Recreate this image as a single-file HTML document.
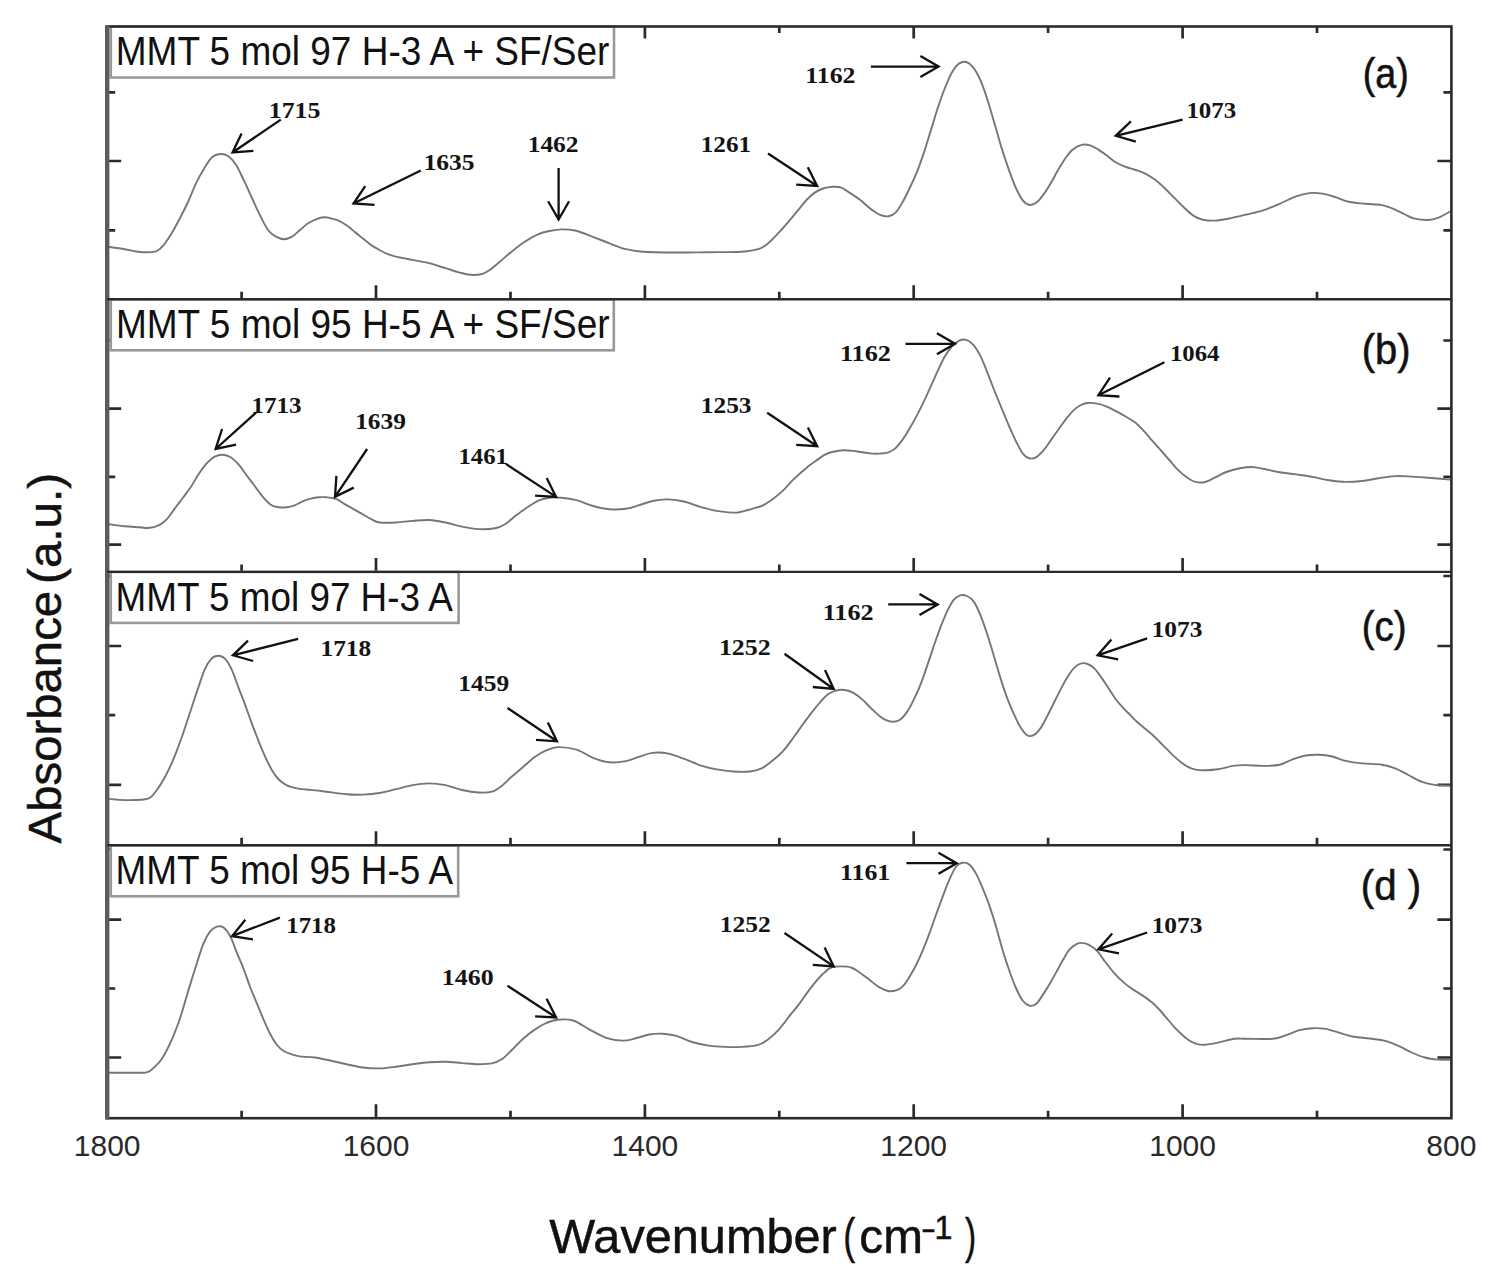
<!DOCTYPE html><html><head><meta charset="utf-8"><style>html,body{margin:0;padding:0;background:#fff;}svg{display:block;}</style></head><body>
<svg width="1500" height="1272" viewBox="0 0 1500 1272">
<rect x="0" y="0" width="1500" height="1272" fill="#fff"/>
<path d="M241.6,299.3 V291.8 M241.6,26.5 V33.0 M376.0,299.3 V285.3 M376.0,26.5 V38.5 M510.5,299.3 V291.8 M510.5,26.5 V33.0 M644.9,299.3 V285.3 M644.9,26.5 V38.5 M779.3,299.3 V291.8 M779.3,26.5 V33.0 M913.7,299.3 V285.3 M913.7,26.5 V38.5 M1048.1,299.3 V291.8 M1048.1,26.5 V33.0 M1182.6,299.3 V285.3 M1182.6,26.5 V38.5 M1317.0,299.3 V291.8 M1317.0,26.5 V33.0 M107.2,92.3 H115.2 M1451.4,92.3 H1443.4 M107.2,161.0 H121.2 M1451.4,161.0 H1437.4 M107.2,230.3 H115.2 M1451.4,230.3 H1443.4 M241.6,571.9 V564.4 M376.0,571.9 V557.9 M510.5,571.9 V564.4 M644.9,571.9 V557.9 M779.3,571.9 V564.4 M913.7,571.9 V557.9 M1048.1,571.9 V564.4 M1182.6,571.9 V557.9 M1317.0,571.9 V564.4 M107.2,340.5 H115.2 M1451.4,340.5 H1443.4 M107.2,408.7 H121.2 M1451.4,408.7 H1437.4 M107.2,476.8 H115.2 M1451.4,476.8 H1443.4 M107.2,544.6 H121.2 M1451.4,544.6 H1437.4 M241.6,845.3 V837.8 M376.0,845.3 V831.3 M510.5,845.3 V837.8 M644.9,845.3 V831.3 M779.3,845.3 V837.8 M913.7,845.3 V831.3 M1048.1,845.3 V837.8 M1182.6,845.3 V831.3 M1317.0,845.3 V837.8 M107.2,576.0 H115.2 M1451.4,576.0 H1443.4 M107.2,646.0 H121.2 M1451.4,646.0 H1437.4 M107.2,715.2 H115.2 M1451.4,715.2 H1443.4 M107.2,784.8 H121.2 M1451.4,784.8 H1437.4 M241.6,1118.2 V1110.7 M376.0,1118.2 V1104.2 M510.5,1118.2 V1110.7 M644.9,1118.2 V1104.2 M779.3,1118.2 V1110.7 M913.7,1118.2 V1104.2 M1048.1,1118.2 V1110.7 M1182.6,1118.2 V1104.2 M1317.0,1118.2 V1110.7 M107.2,849.5 H115.2 M1451.4,849.5 H1443.4 M107.2,919.6 H121.2 M1451.4,919.6 H1437.4 M107.2,988.5 H115.2 M1451.4,988.5 H1443.4 M107.2,1057.5 H121.2 M1451.4,1057.5 H1437.4" stroke="#2b2b2b" stroke-width="2.7" fill="none"/>
<path d="M108.0,246.7 C110.8,247.1 119.5,248.3 124.8,249.2 C130.1,250.1 134.8,251.7 140.0,252.0 C145.2,252.3 152.0,252.5 156.0,251.3 C160.0,250.1 161.3,247.8 164.0,244.7 C166.7,241.6 169.3,237.1 172.0,232.7 C174.7,228.2 177.3,223.1 180.0,218.0 C182.7,212.9 185.3,207.8 188.0,202.0 C190.7,196.2 193.3,188.9 196.0,183.3 C198.7,177.8 201.3,173.0 204.0,168.7 C206.7,164.4 209.3,159.8 212.0,157.3 C214.7,154.9 217.3,154.2 220.0,154.0 C222.7,153.8 225.3,154.2 228.0,156.0 C230.7,157.8 233.3,160.6 236.0,164.7 C238.7,168.8 241.3,175.1 244.0,180.7 C246.7,186.2 249.3,192.2 252.0,198.0 C254.7,203.8 257.3,210.0 260.0,215.3 C262.7,220.6 265.3,226.4 268.0,230.0 C270.7,233.6 273.3,235.1 276.0,236.7 C278.7,238.2 281.3,239.3 284.0,239.3 C286.7,239.3 289.3,238.2 292.0,236.7 C294.7,235.1 297.3,232.2 300.0,230.0 C302.7,227.8 305.3,225.1 308.0,223.3 C310.7,221.5 313.3,220.3 316.0,219.3 C318.7,218.3 321.3,217.4 324.0,217.3 C326.7,217.2 329.3,218.0 332.0,218.7 C334.7,219.4 337.6,220.2 340.0,221.3 C342.4,222.4 344.0,223.5 346.5,225.3 C349.0,227.1 352.1,229.7 354.8,231.9 C357.6,234.1 360.2,236.3 363.0,238.5 C365.8,240.7 368.6,243.2 371.3,245.1 C374.1,247.0 376.8,248.5 379.5,250.0 C382.2,251.5 385.1,253.1 387.8,254.2 C390.6,255.3 391.9,255.7 396.0,256.6 C400.1,257.6 407.0,258.8 412.5,259.9 C418.0,261.0 423.5,261.8 429.0,263.2 C434.5,264.6 440.5,266.7 445.5,268.2 C450.5,269.7 454.7,271.2 458.8,272.3 C462.9,273.4 466.5,274.5 470.3,274.8 C474.1,275.1 478.6,274.8 481.9,274.0 C485.2,273.2 487.1,271.9 490.1,269.8 C493.1,267.7 496.4,264.6 500.0,261.6 C503.6,258.6 507.5,255.0 511.6,251.7 C515.7,248.4 520.4,244.7 524.8,241.8 C529.2,238.9 533.9,236.1 538.0,234.3 C542.1,232.5 545.6,231.8 549.5,231.0 C553.4,230.2 556.9,229.5 561.1,229.4 C565.3,229.3 569.6,229.3 574.9,230.5 C580.2,231.7 587.2,234.7 593.0,236.8 C598.8,239.0 604.0,241.3 609.5,243.4 C615.0,245.5 620.5,247.8 626.0,249.2 C631.5,250.6 634.2,251.1 642.5,251.7 C650.8,252.2 664.6,252.4 675.6,252.5 C686.6,252.6 697.6,252.3 708.6,252.2 C719.6,252.1 733.4,252.2 741.6,251.7 C749.9,251.2 753.7,250.6 758.1,249.2 C762.5,247.8 764.4,246.3 768.0,243.4 C771.6,240.5 775.6,236.0 779.5,231.9 C783.4,227.8 788.0,222.4 791.1,218.7 C794.2,215.0 795.7,213.0 798.3,209.9 C800.9,206.8 803.8,202.9 806.5,200.0 C809.2,197.1 812.0,194.5 814.8,192.6 C817.5,190.7 820.0,189.5 823.0,188.5 C826.0,187.5 829.9,187.0 832.9,186.8 C835.9,186.7 838.5,186.6 841.2,187.6 C844.0,188.6 846.3,190.6 849.4,192.6 C852.5,194.6 857.2,197.6 860.0,199.7 C862.8,201.8 864.2,203.5 866.3,205.3 C868.4,207.1 870.3,208.8 872.6,210.4 C874.9,212.0 877.4,213.9 880.0,214.9 C882.6,215.9 885.9,216.7 888.5,216.3 C891.1,215.9 893.2,215.1 895.6,212.7 C898.0,210.3 900.2,206.2 902.6,202.1 C905.0,198.0 907.3,192.9 909.7,188.0 C912.1,183.1 914.4,178.3 916.8,172.4 C919.2,166.5 921.5,159.7 923.9,152.6 C926.3,145.5 928.6,137.5 931.0,129.9 C933.4,122.4 935.6,114.4 938.0,107.3 C940.4,100.2 942.7,93.4 945.1,87.5 C947.5,81.6 949.8,75.9 952.2,71.9 C954.6,67.9 956.9,65.0 959.3,63.4 C961.6,61.8 963.9,61.3 966.3,62.0 C968.6,62.7 971.0,64.5 973.4,67.6 C975.8,70.7 978.1,75.0 980.5,80.4 C982.9,85.8 985.2,92.9 987.6,100.2 C990.0,107.5 992.4,116.3 994.7,124.3 C997.1,132.3 999.4,140.8 1001.7,148.3 C1004.1,155.9 1006.4,163.0 1008.8,169.6 C1011.2,176.2 1013.5,182.8 1015.9,188.0 C1018.3,193.2 1020.6,197.9 1023.0,200.7 C1025.3,203.5 1027.7,204.8 1030.0,205.0 C1032.3,205.2 1034.7,204.0 1037.1,202.1 C1039.5,200.2 1041.8,196.9 1044.2,193.6 C1046.6,190.3 1049.0,186.3 1051.3,182.3 C1053.6,178.3 1055.9,173.6 1058.3,169.6 C1060.7,165.6 1063.0,161.5 1065.4,158.2 C1067.8,154.9 1069.8,151.9 1072.5,149.7 C1075.2,147.5 1078.7,145.5 1081.6,144.8 C1084.5,144.1 1087.2,144.6 1090.0,145.4 C1092.8,146.2 1095.6,147.9 1098.4,149.6 C1101.2,151.3 1103.8,153.4 1106.8,155.6 C1109.8,157.8 1113.2,160.9 1116.4,162.8 C1119.6,164.7 1122.8,165.8 1126.0,167.0 C1129.2,168.2 1132.4,168.9 1135.6,170.0 C1138.8,171.1 1142.0,172.0 1145.2,173.6 C1148.4,175.2 1151.6,177.2 1154.8,179.6 C1158.0,182.0 1161.3,185.0 1164.5,188.0 C1167.7,191.0 1170.9,194.4 1174.1,197.6 C1177.3,200.8 1180.5,204.2 1183.7,207.2 C1186.9,210.2 1190.1,213.5 1193.3,215.6 C1196.5,217.7 1199.3,219.0 1202.9,219.8 C1206.5,220.6 1210.6,220.8 1214.8,220.6 C1219.0,220.4 1222.7,219.7 1228.0,218.7 C1233.3,217.7 1240.7,215.9 1246.5,214.5 C1252.3,213.1 1257.5,212.2 1263.0,210.4 C1268.5,208.6 1274.0,206.1 1279.5,203.8 C1285.0,201.5 1291.0,198.2 1296.0,196.4 C1301.0,194.6 1304.8,193.6 1309.2,193.1 C1313.6,192.6 1318.0,192.9 1322.4,193.6 C1326.8,194.3 1331.2,195.8 1335.6,197.2 C1340.0,198.6 1343.9,200.7 1348.9,201.8 C1353.9,202.9 1359.9,203.2 1365.4,203.8 C1370.9,204.4 1377.0,204.1 1381.9,205.1 C1386.9,206.1 1391.2,208.0 1395.1,209.6 C1398.9,211.2 1401.7,213.0 1405.0,214.5 C1408.3,216.0 1411.1,217.8 1414.9,218.7 C1418.8,219.6 1424.2,220.2 1428.1,220.0 C1431.9,219.8 1434.3,219.2 1438.0,217.8 C1441.7,216.4 1448.0,212.6 1450.0,211.5" stroke="#767676" stroke-width="1.9" fill="none" stroke-linejoin="round"/>
<path d="M108.0,524.0 C110.8,524.4 119.5,525.8 124.8,526.3 C130.1,526.8 136.1,527.0 140.0,527.3 C143.9,527.6 144.9,528.3 148.0,528.0 C151.1,527.7 155.6,526.8 158.7,525.3 C161.8,523.8 164.0,522.1 166.7,519.3 C169.4,516.5 172.0,512.2 174.7,508.7 C177.4,505.1 180.0,501.6 182.7,498.0 C185.4,494.4 188.0,491.3 190.7,487.3 C193.4,483.3 196.0,478.0 198.7,474.0 C201.4,470.0 204.0,466.2 206.7,463.3 C209.4,460.4 212.0,458.1 214.7,456.7 C217.4,455.3 220.0,454.6 222.7,454.7 C225.4,454.8 228.0,455.6 230.7,457.3 C233.4,459.0 236.0,461.7 238.7,464.7 C241.4,467.7 244.0,471.8 246.7,475.3 C249.4,478.9 252.0,482.4 254.7,486.0 C257.4,489.6 260.0,493.6 262.7,496.7 C265.4,499.8 268.0,502.9 270.7,504.7 C273.4,506.5 276.0,506.9 278.7,507.3 C281.4,507.7 284.0,507.6 286.7,507.3 C289.4,507.0 292.0,506.3 294.7,505.3 C297.4,504.3 300.0,502.4 302.7,501.3 C305.4,500.2 308.0,499.4 310.7,498.7 C313.4,498.0 316.0,497.5 318.7,497.3 C321.4,497.1 323.7,497.0 326.7,497.3 C329.7,497.6 333.3,497.9 336.6,499.2 C339.9,500.5 342.6,503.0 346.5,505.2 C350.4,507.4 355.6,510.3 359.7,512.6 C363.8,514.9 368.0,517.6 371.3,519.2 C374.6,520.9 375.4,522.0 379.5,522.5 C383.6,523.0 390.5,522.8 396.0,522.5 C401.5,522.2 407.0,521.3 412.5,520.9 C418.0,520.5 423.5,519.7 429.0,520.0 C434.5,520.3 440.0,521.4 445.5,522.5 C451.0,523.6 456.6,525.5 462.1,526.6 C467.6,527.7 473.1,528.8 478.6,529.1 C484.1,529.4 490.7,529.1 495.1,528.3 C499.5,527.5 501.4,526.4 505.0,524.2 C508.6,522.0 512.6,518.0 516.5,515.1 C520.4,512.2 524.2,509.3 528.1,506.8 C532.0,504.3 536.0,501.7 539.6,500.2 C543.2,498.7 545.9,498.1 549.5,497.7 C553.1,497.3 556.6,497.3 561.1,497.7 C565.6,498.1 571.2,498.8 576.5,500.2 C581.8,501.6 587.5,504.5 593.0,506.0 C598.5,507.5 604.0,508.8 609.5,509.3 C615.0,509.8 621.0,509.5 626.0,508.8 C631.0,508.1 634.8,506.5 639.2,505.2 C643.6,503.9 647.7,502.0 652.4,501.0 C657.1,500.0 662.1,499.3 667.3,499.4 C672.5,499.5 678.3,500.3 683.8,501.5 C689.3,502.7 694.8,505.2 700.3,506.8 C705.8,508.4 711.3,509.9 716.8,510.9 C722.3,511.9 729.4,512.4 733.3,512.6 C737.2,512.8 736.9,512.6 740.0,512.0 C743.1,511.4 748.3,509.9 752.0,508.8 C755.7,507.7 758.8,507.3 762.4,505.6 C766.0,503.9 770.1,500.9 773.6,498.4 C777.1,495.9 780.1,493.3 783.2,490.4 C786.3,487.5 789.1,483.7 792.0,480.8 C794.9,477.9 798.1,475.2 800.8,472.8 C803.5,470.4 805.5,468.4 808.0,466.4 C810.5,464.4 813.3,462.7 816.0,460.8 C818.7,458.9 821.3,456.7 824.0,455.2 C826.7,453.7 828.7,452.8 832.0,452.0 C835.3,451.2 840.0,450.3 844.0,450.2 C848.0,450.1 851.7,450.7 856.0,451.2 C860.3,451.7 866.0,453.0 870.0,453.4 C874.0,453.8 876.9,453.8 880.0,453.6 C883.1,453.4 885.9,453.3 888.5,452.4 C891.1,451.5 893.2,450.2 895.6,448.1 C898.0,446.0 900.2,442.9 902.6,439.6 C905.0,436.3 907.3,432.3 909.7,428.3 C912.1,424.3 914.4,420.1 916.8,415.6 C919.2,411.1 921.5,406.3 923.9,401.4 C926.3,396.4 928.6,391.1 931.0,385.9 C933.4,380.7 935.6,375.3 938.0,370.3 C940.4,365.3 942.7,360.1 945.1,356.1 C947.5,352.1 949.8,348.8 952.2,346.2 C954.6,343.6 956.9,341.7 959.3,340.6 C961.6,339.6 963.9,339.2 966.3,339.9 C968.6,340.6 971.0,342.1 973.4,344.8 C975.8,347.5 978.1,351.4 980.5,356.1 C982.9,360.8 985.2,367.2 987.6,373.1 C990.0,379.0 992.4,385.6 994.7,391.5 C997.1,397.4 999.4,402.8 1001.7,408.5 C1004.1,414.2 1006.4,420.1 1008.8,425.5 C1011.2,430.9 1013.5,436.4 1015.9,441.1 C1018.3,445.8 1020.6,450.9 1023.0,453.8 C1025.3,456.7 1027.7,458.0 1030.0,458.5 C1032.3,459.0 1034.7,458.1 1037.1,456.6 C1039.5,455.1 1041.8,452.4 1044.2,449.6 C1046.6,446.8 1049.0,442.9 1051.3,439.6 C1053.6,436.3 1055.9,433.0 1058.3,429.7 C1060.7,426.4 1063.0,422.9 1065.4,419.8 C1067.8,416.7 1070.1,413.7 1072.5,411.3 C1074.9,408.9 1077.5,406.9 1080.0,405.5 C1082.5,404.1 1084.7,403.3 1087.6,403.0 C1090.5,402.7 1094.0,403.0 1097.2,403.6 C1100.4,404.2 1103.6,405.3 1106.8,406.6 C1110.0,407.9 1113.2,409.7 1116.4,411.4 C1119.6,413.1 1122.8,414.9 1126.0,416.8 C1129.2,418.7 1132.6,420.4 1135.6,422.8 C1138.6,425.2 1141.2,428.2 1144.0,431.2 C1146.8,434.2 1149.6,437.6 1152.4,440.8 C1155.2,444.0 1158.1,447.2 1160.9,450.4 C1163.7,453.6 1166.5,456.8 1169.3,460.0 C1172.1,463.2 1174.9,466.8 1177.7,469.6 C1180.5,472.4 1183.3,474.8 1186.1,476.8 C1188.9,478.8 1191.5,480.7 1194.5,481.6 C1197.5,482.5 1200.7,482.9 1204.1,482.2 C1207.5,481.5 1211.1,479.4 1214.8,477.7 C1218.5,476.0 1222.1,473.6 1226.3,472.0 C1230.5,470.4 1235.7,469.1 1239.9,468.3 C1244.1,467.5 1247.7,466.9 1251.5,467.0 C1255.3,467.1 1258.3,467.8 1263.0,468.7 C1267.7,469.6 1274.0,471.4 1279.5,472.3 C1285.0,473.2 1290.5,473.6 1296.0,474.4 C1301.5,475.2 1307.0,475.9 1312.5,476.9 C1318.0,477.9 1323.5,479.4 1329.0,480.2 C1334.5,481.0 1340.1,481.8 1345.6,481.9 C1351.1,482.0 1356.6,481.6 1362.1,481.0 C1367.6,480.4 1373.1,479.0 1378.6,478.2 C1384.1,477.4 1389.6,476.4 1395.1,476.1 C1400.6,475.8 1406.1,476.3 1411.6,476.6 C1417.1,476.9 1421.7,477.2 1428.1,477.7 C1434.5,478.2 1446.3,479.3 1450.0,479.6" stroke="#767676" stroke-width="1.9" fill="none" stroke-linejoin="round"/>
<path d="M108.0,798.9 C110.8,799.1 119.2,800.0 124.8,800.1 C130.3,800.2 137.1,800.1 141.3,799.7 C145.5,799.3 147.2,799.7 150.0,797.8 C152.8,795.9 155.3,792.2 158.0,788.4 C160.7,784.6 163.3,780.1 166.0,775.0 C168.7,769.9 171.4,764.1 174.1,757.6 C176.8,751.1 179.4,743.9 182.1,736.3 C184.8,728.7 187.4,720.2 190.1,712.2 C192.8,704.2 195.6,695.2 198.1,688.1 C200.6,681.0 202.6,674.3 204.8,669.4 C207.0,664.5 209.3,661.0 211.5,658.7 C213.7,656.4 216.0,655.8 218.2,655.8 C220.4,655.8 222.7,656.4 224.9,658.7 C227.1,661.0 229.4,664.7 231.6,669.4 C233.8,674.1 236.0,681.0 238.2,686.8 C240.4,692.6 242.7,698.2 244.9,704.2 C247.1,710.2 249.4,716.9 251.6,722.9 C253.8,728.9 256.1,734.7 258.3,740.3 C260.5,745.9 262.8,751.4 265.0,756.3 C267.2,761.2 269.5,765.9 271.7,769.7 C273.9,773.5 275.9,776.4 278.3,779.0 C280.8,781.6 283.3,783.5 286.4,785.1 C289.5,786.7 293.7,787.7 297.0,788.4 C300.3,789.1 302.0,789.0 306.3,789.5 C310.6,790.0 316.1,790.4 322.8,791.2 C329.5,792.0 339.8,793.6 346.5,794.2 C353.2,794.8 357.5,794.8 363.0,794.6 C368.5,794.4 374.0,793.9 379.5,793.0 C385.0,792.1 390.5,790.5 396.0,789.2 C401.5,787.9 407.0,786.1 412.5,785.1 C418.0,784.1 423.5,783.4 429.0,783.4 C434.5,783.4 440.0,784.0 445.5,785.1 C451.0,786.2 456.6,788.8 462.1,790.0 C467.6,791.2 473.7,792.2 478.6,792.5 C483.6,792.8 488.0,792.8 491.8,791.7 C495.6,790.6 498.4,788.4 501.7,785.9 C505.0,783.4 508.0,780.0 511.6,776.8 C515.2,773.6 519.2,770.2 523.1,766.9 C527.0,763.6 530.9,759.8 534.7,757.0 C538.6,754.2 542.4,752.0 546.2,750.4 C550.1,748.8 552.8,747.2 557.8,747.1 C562.8,747.0 570.6,747.8 576.5,749.6 C582.4,751.4 587.5,755.7 593.0,757.8 C598.5,759.9 604.0,761.8 609.5,762.3 C615.0,762.8 621.0,762.0 626.0,761.1 C631.0,760.2 634.8,758.1 639.2,756.7 C643.6,755.3 647.7,753.5 652.4,752.9 C657.1,752.3 662.1,752.4 667.3,753.4 C672.5,754.4 678.3,756.7 683.8,758.7 C689.3,760.7 694.8,763.5 700.3,765.3 C705.8,767.1 711.3,768.4 716.8,769.4 C722.3,770.4 727.8,771.1 733.3,771.5 C738.8,771.9 745.4,772.0 750.0,771.5 C754.6,771.0 757.3,770.5 761.0,768.7 C764.7,767.0 768.3,763.9 772.0,761.0 C775.7,758.1 779.3,755.1 783.0,751.1 C786.7,747.1 790.3,741.8 794.0,736.8 C797.7,731.8 801.3,726.3 805.0,721.4 C808.7,716.5 812.3,711.5 816.0,707.1 C819.7,702.7 823.7,697.8 827.0,695.0 C830.3,692.2 832.9,691.4 835.8,690.6 C838.7,689.8 841.7,689.6 844.6,690.0 C847.5,690.4 850.5,691.2 853.4,692.8 C856.3,694.4 859.3,696.8 862.2,699.4 C865.1,702.0 868.0,705.4 871.0,708.2 C874.0,711.0 877.4,714.4 880.0,716.4 C882.6,718.4 884.5,719.5 886.7,720.4 C888.9,721.3 891.2,721.8 893.4,721.7 C895.6,721.6 897.9,721.2 900.1,719.7 C902.3,718.2 904.5,715.6 906.7,712.4 C908.9,709.2 911.2,704.8 913.4,700.3 C915.6,695.8 917.9,691.2 920.1,685.6 C922.3,680.0 924.6,673.4 926.8,666.9 C929.0,660.4 931.3,653.3 933.5,646.8 C935.7,640.3 938.0,633.9 940.2,628.1 C942.4,622.3 944.6,616.8 946.8,612.1 C949.0,607.4 951.3,602.9 953.5,600.1 C955.7,597.3 958.0,596.1 960.2,595.4 C962.4,594.7 964.7,595.0 966.9,596.0 C969.1,597.0 971.4,598.3 973.6,601.4 C975.8,604.5 978.1,609.4 980.3,614.8 C982.5,620.1 984.8,626.8 987.0,633.5 C989.2,640.2 991.4,647.5 993.6,654.9 C995.8,662.2 998.1,670.5 1000.3,677.6 C1002.5,684.7 1004.8,691.6 1007.0,697.6 C1009.2,703.6 1011.5,708.8 1013.7,713.7 C1015.9,718.6 1018.2,723.5 1020.4,727.1 C1022.6,730.7 1024.9,733.9 1027.1,735.2 C1029.3,736.6 1031.5,736.3 1033.7,735.2 C1035.9,734.1 1038.2,731.5 1040.4,728.4 C1042.6,725.3 1044.9,720.6 1047.1,716.4 C1049.3,712.2 1051.6,707.5 1053.8,703.0 C1056.0,698.5 1058.3,693.8 1060.5,689.6 C1062.7,685.4 1065.0,681.2 1067.2,677.6 C1069.4,674.0 1071.7,670.5 1073.9,668.2 C1076.1,665.9 1078.1,664.3 1080.4,663.6 C1082.7,662.9 1085.2,663.1 1087.6,664.0 C1090.0,664.9 1092.4,666.4 1094.8,668.8 C1097.2,671.2 1099.6,675.0 1102.0,678.4 C1104.4,681.8 1106.8,685.6 1109.2,689.2 C1111.6,692.8 1114.0,696.8 1116.4,700.0 C1118.8,703.2 1121.2,705.8 1123.6,708.4 C1126.0,711.0 1128.4,713.2 1130.8,715.6 C1133.2,718.0 1135.6,720.6 1138.0,722.8 C1140.4,725.0 1142.8,726.8 1145.2,728.8 C1147.6,730.8 1150.0,732.6 1152.4,734.8 C1154.8,737.0 1157.3,739.6 1159.7,742.0 C1162.1,744.4 1164.5,746.8 1166.9,749.2 C1169.3,751.6 1171.7,754.2 1174.1,756.4 C1176.5,758.6 1178.9,760.6 1181.3,762.4 C1183.7,764.2 1186.1,766.0 1188.5,767.2 C1190.9,768.4 1193.1,769.1 1195.7,769.6 C1198.3,770.1 1200.4,770.3 1204.1,770.2 C1207.8,770.1 1213.0,770.0 1218.1,769.2 C1223.2,768.4 1229.9,766.3 1234.6,765.6 C1239.3,764.9 1241.8,765.1 1246.5,765.1 C1251.2,765.1 1257.5,766.0 1263.0,765.9 C1268.5,765.8 1274.5,765.8 1279.5,764.7 C1284.5,763.6 1288.3,760.8 1292.7,759.3 C1297.1,757.8 1301.5,756.2 1305.9,755.5 C1310.3,754.8 1314.7,754.6 1319.1,754.8 C1323.5,755.0 1327.9,755.5 1332.3,756.5 C1336.7,757.5 1340.6,759.8 1345.6,760.9 C1350.6,762.0 1356.0,762.8 1362.1,763.4 C1368.1,764.0 1376.4,763.9 1381.9,764.7 C1387.4,765.5 1390.7,766.7 1395.1,768.4 C1399.5,770.1 1403.9,772.8 1408.3,775.0 C1412.7,777.2 1417.1,780.0 1421.5,781.6 C1425.9,783.2 1430.0,784.2 1434.7,784.9 C1439.5,785.6 1447.5,785.6 1450.0,785.7" stroke="#767676" stroke-width="1.9" fill="none" stroke-linejoin="round"/>
<path d="M108.0,1072.8 C110.8,1072.8 119.5,1072.8 124.8,1072.8 C130.1,1072.8 136.6,1072.8 140.0,1072.8 C143.4,1072.8 143.8,1072.9 145.5,1072.6 C147.2,1072.2 148.6,1071.8 150.3,1070.7 C152.0,1069.6 153.9,1067.7 155.7,1065.9 C157.5,1064.1 159.4,1062.2 161.0,1060.0 C162.6,1057.8 164.0,1055.4 165.3,1053.0 C166.6,1050.6 167.8,1048.2 169.0,1045.6 C170.2,1043.0 171.5,1040.3 172.7,1037.6 C173.8,1034.9 174.8,1032.4 175.9,1029.6 C177.0,1026.8 178.0,1024.2 179.1,1021.0 C180.2,1017.8 181.3,1014.4 182.5,1010.5 C183.7,1006.6 185.0,1001.8 186.3,997.5 C187.6,993.2 188.3,990.6 190.1,984.9 C191.8,979.2 194.6,970.4 196.8,963.5 C199.0,956.6 201.3,948.8 203.5,943.4 C205.7,938.0 208.0,934.2 210.2,931.4 C212.4,928.6 214.6,927.4 216.8,926.7 C219.0,926.0 221.3,925.8 223.5,927.4 C225.7,929.0 228.0,931.9 230.2,936.1 C232.4,940.3 234.7,947.3 236.9,952.8 C239.1,958.2 241.4,963.0 243.6,968.8 C245.8,974.6 248.1,981.7 250.3,987.5 C252.5,993.3 254.8,998.2 257.0,1003.6 C259.2,1009.0 261.4,1014.5 263.6,1019.6 C265.8,1024.7 268.1,1030.1 270.3,1034.3 C272.5,1038.5 274.8,1042.2 277.0,1045.0 C279.2,1047.8 281.2,1049.4 283.7,1051.0 C286.1,1052.6 289.0,1053.5 291.7,1054.4 C294.4,1055.3 295.9,1055.9 299.7,1056.4 C303.5,1056.9 309.4,1056.8 314.6,1057.5 C319.8,1058.2 325.8,1059.7 331.1,1060.8 C336.4,1061.9 341.2,1063.1 346.5,1064.2 C351.8,1065.3 357.5,1066.8 363.0,1067.5 C368.5,1068.2 374.0,1068.5 379.5,1068.4 C385.0,1068.3 390.5,1067.4 396.0,1066.7 C401.5,1066.0 407.0,1064.9 412.5,1064.2 C418.0,1063.5 423.5,1062.7 429.0,1062.3 C434.5,1061.9 440.0,1061.7 445.5,1061.8 C451.0,1061.9 456.6,1062.7 462.1,1063.1 C467.6,1063.5 473.7,1064.2 478.6,1064.2 C483.6,1064.2 488.0,1064.2 491.8,1063.4 C495.6,1062.6 498.4,1061.5 501.7,1059.3 C505.0,1057.1 508.0,1053.6 511.6,1050.2 C515.2,1046.8 519.2,1042.1 523.1,1038.7 C527.0,1035.3 530.9,1032.2 534.7,1029.6 C538.6,1027.0 542.4,1024.7 546.2,1023.0 C550.1,1021.4 553.3,1020.1 557.8,1019.7 C562.3,1019.3 567.9,1018.9 573.2,1020.5 C578.5,1022.1 584.2,1026.7 589.7,1029.6 C595.2,1032.5 600.7,1036.0 606.2,1037.8 C611.7,1039.6 617.8,1040.5 622.7,1040.6 C627.7,1040.7 631.5,1039.3 635.9,1038.3 C640.3,1037.3 644.7,1035.3 649.1,1034.5 C653.5,1033.7 657.9,1033.5 662.3,1033.7 C666.7,1033.9 670.6,1034.3 675.6,1035.7 C680.6,1037.1 686.6,1040.3 692.1,1042.0 C697.6,1043.7 703.1,1044.8 708.6,1045.6 C714.1,1046.4 719.6,1046.7 725.1,1046.9 C730.6,1047.1 736.1,1047.2 741.6,1046.9 C747.1,1046.6 753.7,1046.1 758.1,1044.9 C762.5,1043.7 764.4,1042.2 768.0,1039.5 C771.6,1036.8 775.6,1033.1 779.5,1028.8 C783.4,1024.5 788.0,1017.8 791.1,1013.9 C794.2,1010.0 795.7,1008.6 798.3,1005.2 C800.9,1001.8 803.8,997.3 806.5,993.6 C809.2,989.9 812.0,986.2 814.8,982.9 C817.5,979.6 820.2,976.4 823.0,973.8 C825.8,971.2 828.3,968.7 831.3,967.5 C834.3,966.3 837.9,966.4 841.2,966.4 C844.5,966.4 848.1,966.5 851.1,967.5 C854.1,968.5 856.1,970.1 859.3,972.2 C862.4,974.3 867.4,978.2 870.0,980.2 C872.6,982.2 873.0,982.8 874.7,984.0 C876.4,985.2 877.8,986.5 880.0,987.7 C882.2,988.9 885.3,990.5 888.0,991.0 C890.7,991.5 893.5,991.2 896.0,990.4 C898.5,989.6 900.5,988.6 902.7,986.4 C904.9,984.2 907.2,980.6 909.4,977.0 C911.6,973.4 913.9,969.5 916.1,965.0 C918.3,960.5 920.6,955.6 922.8,950.3 C925.0,945.0 927.3,939.2 929.5,933.2 C931.7,927.2 933.9,920.6 936.1,914.5 C938.3,908.4 940.6,902.1 942.8,896.3 C945.0,890.4 947.3,884.4 949.5,879.4 C951.7,874.4 954.0,869.3 956.2,866.5 C958.4,863.7 960.7,863.0 962.9,862.7 C965.1,862.4 967.4,862.8 969.6,864.7 C971.8,866.6 974.1,870.1 976.3,874.1 C978.5,878.1 980.7,883.5 982.9,888.8 C985.1,894.1 987.4,899.6 989.6,906.1 C991.8,912.6 994.1,919.9 996.3,927.5 C998.5,935.1 1000.8,944.2 1003.0,951.6 C1005.2,959.0 1007.5,965.5 1009.7,971.7 C1011.9,977.9 1014.2,984.1 1016.4,989.0 C1018.6,993.9 1020.8,998.2 1023.0,1001.0 C1025.2,1003.8 1027.5,1005.3 1029.7,1005.8 C1031.9,1006.2 1034.2,1005.6 1036.4,1003.7 C1038.6,1001.8 1040.9,997.7 1043.1,994.4 C1045.3,991.1 1047.6,987.5 1049.8,983.7 C1052.0,979.9 1054.3,975.7 1056.5,971.7 C1058.7,967.7 1061.0,963.4 1063.2,959.6 C1065.4,955.9 1067.3,951.9 1069.8,949.2 C1072.3,946.5 1075.4,944.4 1078.0,943.4 C1080.6,942.4 1082.8,942.8 1085.2,943.4 C1087.6,944.0 1090.2,945.5 1092.4,947.0 C1094.6,948.5 1096.4,950.1 1098.4,952.4 C1100.4,954.7 1101.8,957.4 1104.4,960.8 C1107.0,964.2 1110.8,969.2 1114.0,972.8 C1117.2,976.4 1120.4,979.6 1123.6,982.4 C1126.8,985.2 1130.0,987.4 1133.2,989.6 C1136.4,991.8 1139.6,993.4 1142.8,995.6 C1146.0,997.8 1149.6,1000.4 1152.4,1002.8 C1155.2,1005.2 1157.3,1007.4 1159.7,1010.0 C1162.1,1012.6 1164.5,1015.6 1166.9,1018.4 C1169.3,1021.2 1171.7,1024.2 1174.1,1026.8 C1176.5,1029.4 1178.9,1031.8 1181.3,1034.0 C1183.7,1036.2 1186.1,1038.4 1188.5,1040.0 C1190.9,1041.6 1193.1,1042.8 1195.7,1043.6 C1198.3,1044.4 1200.4,1045.0 1204.1,1044.8 C1207.8,1044.6 1213.0,1043.6 1218.1,1042.6 C1223.2,1041.6 1229.9,1039.4 1234.6,1038.8 C1239.3,1038.2 1240.1,1038.8 1246.5,1038.8 C1252.9,1038.8 1266.3,1039.4 1272.9,1038.8 C1279.5,1038.2 1281.7,1036.6 1286.1,1035.2 C1290.5,1033.8 1294.9,1031.4 1299.3,1030.2 C1303.7,1029.0 1308.1,1028.4 1312.5,1028.2 C1316.9,1028.0 1321.3,1028.2 1325.7,1028.9 C1330.1,1029.7 1334.6,1031.4 1339.0,1032.7 C1343.4,1034.0 1346.7,1035.5 1352.2,1036.5 C1357.7,1037.5 1366.5,1038.1 1372.0,1038.8 C1377.5,1039.5 1380.8,1039.7 1385.2,1040.9 C1389.6,1042.1 1394.0,1044.0 1398.4,1045.9 C1402.8,1047.8 1407.2,1050.6 1411.6,1052.5 C1416.0,1054.4 1420.4,1056.3 1424.8,1057.5 C1429.2,1058.7 1433.8,1059.2 1438.0,1059.6 C1442.2,1060.0 1448.0,1059.9 1450.0,1059.9" stroke="#767676" stroke-width="1.9" fill="none" stroke-linejoin="round"/>
<rect x="110.8" y="26.5" width="503.2" height="51.0" fill="#fff" stroke="#999" stroke-width="2.6"/>
<rect x="110.8" y="299.3" width="503.0" height="51.0" fill="#fff" stroke="#999" stroke-width="2.6"/>
<rect x="110.8" y="571.9" width="347.8" height="51.0" fill="#fff" stroke="#999" stroke-width="2.6"/>
<rect x="110.8" y="845.3" width="347.4" height="51.0" fill="#fff" stroke="#999" stroke-width="2.6"/>
<rect x="107.2" y="26.5" width="1344.2" height="1091.7" fill="none" stroke="#2b2b2b" stroke-width="2.6"/>
<path d="M107.2,25.2 V1119.5" stroke="#5c5c5c" stroke-width="4.4"/>
<path d="M107.2,299.3 H1451.4" stroke="#2b2b2b" stroke-width="2.4"/>
<path d="M107.2,571.9 H1451.4" stroke="#2b2b2b" stroke-width="2.4"/>
<path d="M107.2,845.3 H1451.4" stroke="#2b2b2b" stroke-width="2.4"/>
<text x="115.80" y="64.80" font-family="'Liberation Sans', sans-serif" font-size="40.00" fill="#111" textLength="493.51" lengthAdjust="spacingAndGlyphs">MMT 5 mol 97 H-3 A + SF/Ser</text>
<text x="116.00" y="337.60" font-family="'Liberation Sans', sans-serif" font-size="40.00" fill="#111" textLength="493.51" lengthAdjust="spacingAndGlyphs">MMT 5 mol 95 H-5 A + SF/Ser</text>
<text x="115.60" y="610.60" font-family="'Liberation Sans', sans-serif" font-size="40.00" fill="#111" textLength="337.17" lengthAdjust="spacingAndGlyphs">MMT 5 mol 97 H-3 A</text>
<text x="115.60" y="883.60" font-family="'Liberation Sans', sans-serif" font-size="40.00" fill="#111" textLength="337.47" lengthAdjust="spacingAndGlyphs">MMT 5 mol 95 H-5 A</text>
<path d="M280.8,119.6 L232.5,152.5 M253.4,150.9 L232.5,152.5 L241.6,133.6 M420.8,170.5 L353.5,203.5 M374.5,204.9 L353.5,203.5 L365.2,186.1 M558.6,168.0 L558.6,219.5 M569.1,201.3 L558.6,219.5 L548.1,201.3 M768.0,153.5 L817.2,186.0 M807.8,167.2 L817.2,186.0 L796.2,184.7 M870.9,66.6 L938.6,66.6 M920.4,56.1 L938.6,66.6 L920.4,77.1 M1182.6,119.6 L1115.7,135.8 M1135.8,141.7 L1115.7,135.8 L1130.9,121.3 M256.0,412.7 L215.6,449.0 M236.1,444.7 L215.6,449.0 L222.1,429.0 M367.1,449.0 L335.0,496.9 M353.8,487.6 L335.0,496.9 L336.4,475.9 M505.8,463.9 L556.1,496.9 M546.7,478.1 L556.1,496.9 L535.1,495.7 M767.2,412.7 L817.2,446.2 M807.9,427.4 L817.2,446.2 L796.2,444.8 M905.5,343.8 L955.1,343.8 M936.9,333.3 L955.1,343.8 L936.9,354.3 M1164.4,362.2 L1098.4,395.2 M1119.4,396.5 L1098.4,395.2 L1110.0,377.7 M298.1,638.8 L232.9,655.3 M253.1,661.0 L232.9,655.3 L248.0,640.7 M507.5,708.0 L557.0,741.3 M547.8,722.4 L557.0,741.3 L536.0,739.9 M784.5,653.8 L833.7,689.0 M825.0,669.9 L833.7,689.0 L812.8,687.0 M888.2,604.4 L937.7,604.4 M919.5,593.9 L937.7,604.4 L919.5,614.9 M1147.1,638.3 L1097.6,655.3 M1118.2,659.3 L1097.6,655.3 L1111.4,639.5 M279.9,917.6 L232.1,936.1 M252.9,939.3 L232.1,936.1 L245.3,919.7 M507.5,985.8 L556.1,1017.5 M546.6,998.8 L556.1,1017.5 L535.1,1016.4 M784.5,933.0 L833.7,966.4 M824.6,947.5 L833.7,966.4 L812.8,964.9 M906.4,863.2 L956.7,863.2 M938.5,852.7 L956.7,863.2 L938.5,873.7 M1147.1,932.5 L1098.4,949.3 M1119.0,953.3 L1098.4,949.3 L1112.2,933.4" stroke="#111" stroke-width="2.30" fill="none" stroke-linejoin="miter" stroke-linecap="butt"/>
<text x="268.73" y="118.00" font-family="'Liberation Serif', serif" font-weight="bold" font-size="24.00" fill="#141414" textLength="51.72" lengthAdjust="spacingAndGlyphs">1715</text>
<text x="423.66" y="170.00" font-family="'Liberation Serif', serif" font-weight="bold" font-size="24.00" fill="#141414" textLength="50.87" lengthAdjust="spacingAndGlyphs">1635</text>
<text x="527.66" y="151.80" font-family="'Liberation Serif', serif" font-weight="bold" font-size="24.00" fill="#141414" textLength="50.93" lengthAdjust="spacingAndGlyphs">1462</text>
<text x="700.79" y="151.80" font-family="'Liberation Serif', serif" font-weight="bold" font-size="24.00" fill="#141414" textLength="50.32" lengthAdjust="spacingAndGlyphs">1261</text>
<text x="805.29" y="83.20" font-family="'Liberation Serif', serif" font-weight="bold" font-size="24.00" fill="#141414" textLength="50.19" lengthAdjust="spacingAndGlyphs">1162</text>
<text x="1186.40" y="118.00" font-family="'Liberation Serif', serif" font-weight="bold" font-size="24.00" fill="#141414" textLength="49.85" lengthAdjust="spacingAndGlyphs">1073</text>
<text x="251.50" y="412.70" font-family="'Liberation Serif', serif" font-weight="bold" font-size="24.00" fill="#141414" textLength="49.95" lengthAdjust="spacingAndGlyphs">1713</text>
<text x="355.16" y="429.20" font-family="'Liberation Serif', serif" font-weight="bold" font-size="24.00" fill="#141414" textLength="50.85" lengthAdjust="spacingAndGlyphs">1639</text>
<text x="458.42" y="463.90" font-family="'Liberation Serif', serif" font-weight="bold" font-size="24.00" fill="#141414" textLength="49.46" lengthAdjust="spacingAndGlyphs">1461</text>
<text x="700.77" y="412.70" font-family="'Liberation Serif', serif" font-weight="bold" font-size="24.00" fill="#141414" textLength="50.80" lengthAdjust="spacingAndGlyphs">1253</text>
<text x="839.96" y="360.80" font-family="'Liberation Serif', serif" font-weight="bold" font-size="24.00" fill="#141414" textLength="51.04" lengthAdjust="spacingAndGlyphs">1162</text>
<text x="1169.92" y="360.50" font-family="'Liberation Serif', serif" font-weight="bold" font-size="24.00" fill="#141414" textLength="49.44" lengthAdjust="spacingAndGlyphs">1064</text>
<text x="320.47" y="655.50" font-family="'Liberation Serif', serif" font-weight="bold" font-size="24.00" fill="#141414" textLength="50.78" lengthAdjust="spacingAndGlyphs">1718</text>
<text x="458.36" y="690.70" font-family="'Liberation Serif', serif" font-weight="bold" font-size="24.00" fill="#141414" textLength="50.85" lengthAdjust="spacingAndGlyphs">1459</text>
<text x="718.93" y="654.70" font-family="'Liberation Serif', serif" font-weight="bold" font-size="24.00" fill="#141414" textLength="51.79" lengthAdjust="spacingAndGlyphs">1252</text>
<text x="822.66" y="620.40" font-family="'Liberation Serif', serif" font-weight="bold" font-size="24.00" fill="#141414" textLength="50.93" lengthAdjust="spacingAndGlyphs">1162</text>
<text x="1151.67" y="637.10" font-family="'Liberation Serif', serif" font-weight="bold" font-size="24.00" fill="#141414" textLength="50.80" lengthAdjust="spacingAndGlyphs">1073</text>
<text x="286.21" y="932.50" font-family="'Liberation Serif', serif" font-weight="bold" font-size="24.00" fill="#141414" textLength="49.82" lengthAdjust="spacingAndGlyphs">1718</text>
<text x="441.83" y="984.50" font-family="'Liberation Serif', serif" font-weight="bold" font-size="24.00" fill="#141414" textLength="51.76" lengthAdjust="spacingAndGlyphs">1460</text>
<text x="719.76" y="932.20" font-family="'Liberation Serif', serif" font-weight="bold" font-size="24.00" fill="#141414" textLength="50.93" lengthAdjust="spacingAndGlyphs">1252</text>
<text x="839.99" y="879.70" font-family="'Liberation Serif', serif" font-weight="bold" font-size="24.00" fill="#141414" textLength="50.32" lengthAdjust="spacingAndGlyphs">1161</text>
<text x="1151.67" y="932.50" font-family="'Liberation Serif', serif" font-weight="bold" font-size="24.00" fill="#141414" textLength="50.80" lengthAdjust="spacingAndGlyphs">1073</text>
<text x="1362.77" y="87.50" font-family="'Liberation Sans', sans-serif" font-size="43.00" fill="#111" textLength="45.96" lengthAdjust="spacingAndGlyphs" stroke="#111" stroke-width="0.6">(a)</text>
<text x="1361.73" y="363.70" font-family="'Liberation Sans', sans-serif" font-size="43.00" fill="#111" textLength="48.75" lengthAdjust="spacingAndGlyphs" stroke="#111" stroke-width="0.6">(b)</text>
<text x="1361.82" y="641.00" font-family="'Liberation Sans', sans-serif" font-size="43.00" fill="#111" textLength="44.76" lengthAdjust="spacingAndGlyphs" stroke="#111" stroke-width="0.6">(c)</text>
<text x="1360.80" y="899.70" font-family="'Liberation Sans', sans-serif" font-size="43.00" fill="#111" textLength="60.39" lengthAdjust="spacingAndGlyphs" stroke="#111" stroke-width="0.6">(d )</text>
<text x="107.2" y="1156.3" font-family="'Liberation Sans', sans-serif" font-size="30" fill="#2a2a2a" text-anchor="middle">1800</text>
<text x="376.0" y="1156.3" font-family="'Liberation Sans', sans-serif" font-size="30" fill="#2a2a2a" text-anchor="middle">1600</text>
<text x="644.9" y="1156.3" font-family="'Liberation Sans', sans-serif" font-size="30" fill="#2a2a2a" text-anchor="middle">1400</text>
<text x="913.7" y="1156.3" font-family="'Liberation Sans', sans-serif" font-size="30" fill="#2a2a2a" text-anchor="middle">1200</text>
<text x="1182.6" y="1156.3" font-family="'Liberation Sans', sans-serif" font-size="30" fill="#2a2a2a" text-anchor="middle">1000</text>
<text x="1451.4" y="1156.3" font-family="'Liberation Sans', sans-serif" font-size="30" fill="#2a2a2a" text-anchor="middle">800</text>
<text transform="translate(60.5,843.3) rotate(-90)" x="-0.09" y="0" font-family="'Liberation Sans', sans-serif" font-size="47" fill="#111" stroke="#111" stroke-width="0.5" textLength="252.49" lengthAdjust="spacingAndGlyphs">Absorbance</text>
<text transform="translate(60.5,843.3) rotate(-90)" x="259.35" y="0" font-family="'Liberation Sans', sans-serif" font-size="47" fill="#111" stroke="#111" stroke-width="0.5" textLength="111.10" lengthAdjust="spacingAndGlyphs">(a.u.)</text>
<text x="549.19" y="1252.70" font-family="'Liberation Sans', sans-serif" font-size="47.80" fill="#111" textLength="287.62" lengthAdjust="spacingAndGlyphs" stroke="#111" stroke-width="0.5">Wavenumber</text>
<text x="843.28" y="1252.70" font-family="'Liberation Sans', sans-serif" font-size="49.50" fill="#111" textLength="11.93" lengthAdjust="spacingAndGlyphs" stroke="#111" stroke-width="0.5">(</text>
<text x="859.37" y="1252.70" font-family="'Liberation Sans', sans-serif" font-size="48.50" fill="#111" textLength="63.57" lengthAdjust="spacingAndGlyphs" stroke="#111" stroke-width="0.5">cm</text>
<text x="921.00" y="1238.50" font-family="'Liberation Sans', sans-serif" font-size="32.00" fill="#111" textLength="15.00" lengthAdjust="spacingAndGlyphs" stroke="#111" stroke-width="0.5">-</text>
<text x="934.54" y="1238.50" font-family="'Liberation Sans', sans-serif" font-size="33.50" fill="#111" textLength="17.93" lengthAdjust="spacingAndGlyphs" stroke="#111" stroke-width="0.5">1</text>
<text x="965.00" y="1252.70" font-family="'Liberation Sans', sans-serif" font-size="49.50" fill="#111" textLength="11.18" lengthAdjust="spacingAndGlyphs" stroke="#111" stroke-width="0.5">)</text>
</svg></body></html>
